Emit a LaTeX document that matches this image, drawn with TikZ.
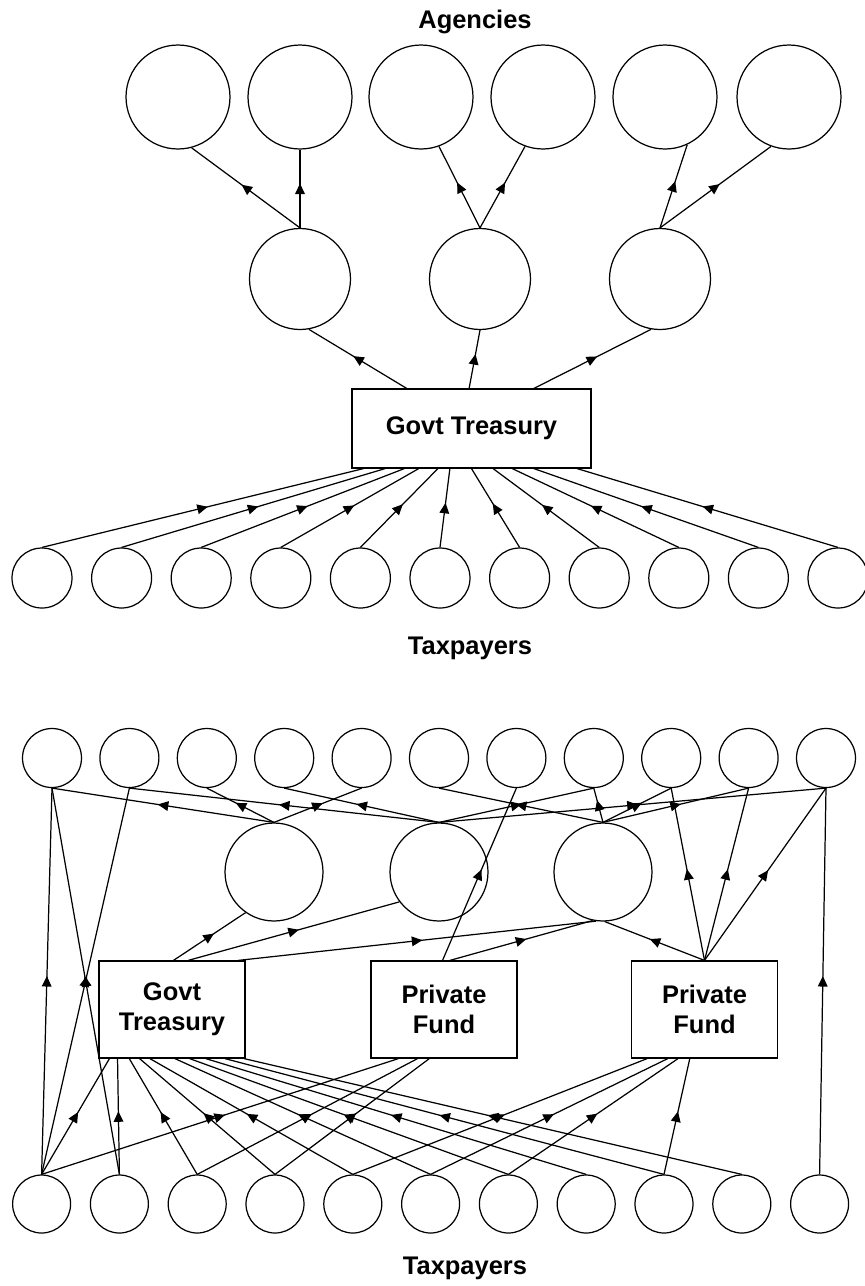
\documentclass[tikz,border=0pt]{standalone}
\usepackage{fontspec}
\setmainfont{Liberation Sans}
\usetikzlibrary{arrows.meta,decorations.markings,calc}

\tikzset{
  agent/.style={draw, circle, inner sep=0pt, line width=0.7pt},
  fund/.style={draw, rectangle, inner sep=0pt, line width=0.7pt, align=center,
    font=\fontsize{14.5}{17}\selectfont\bfseries},
  heading/.style={font=\fontsize{14.5}{17}\selectfont\bfseries},
  flow/.style={line width=0.7pt, postaction={decorate},
    decoration={markings, mark=at position 0.5 with
      {\arrow[xshift=3pt]{Triangle[length=6pt,width=5.5pt]}}}}
}

\begin{document}
\begin{tikzpicture}[x=0.02cm, y=-0.02cm]
  \useasboundingbox (0,0) rectangle (865,1286);

  % Upper chart
  \node[heading] (agencies) at (475,22) {Agencies};
  \foreach \i/\x in {1/178,2/300,3/421,4/543,5/665,6/789}
    \node[agent, minimum size=2.08cm] (ag\i) at (\x,97) {};
  \foreach \i/\x in {1/300,2/480,3/660}
    \node[agent, minimum size=2.02cm] (mid\i) at (\x,279) {};
  \node[fund, minimum width=4.78cm, minimum height=1.58cm] (treas) at (471.5,428.5) {Govt Treasury};
  \foreach \i in {1,...,11}
    \node[agent, minimum size=1.2cm] (tp\i) at ({42+79.6*(\i-1)},578) {};
  \node[heading] (taxA) at (470,648) {Taxpayers};

  % Upper chart: flows
  \foreach \i/\f in {1/.05,2/.14,3/.22,4/.28,5/.36,6/.41,7/.50,8/.59,9/.67,10/.76,11/.94}
    \draw[flow] (tp\i.north) -- ($(treas.south west)!\f!(treas.south east)$);
  \draw[flow] ($(treas.north west)!.23!(treas.north east)$) -- (mid1.280);
  \draw[flow] ($(treas.north west)!.49!(treas.north east)$) -- (mid2.south);
  \draw[flow] ($(treas.north west)!.76!(treas.north east)$) -- (mid3.260);
  \draw[flow] (mid1.north) -- (ag1.285);
  \draw[flow] (mid1.north) -- (ag2.south);
  \draw[flow] (mid2.north) -- (ag3.290);
  \draw[flow] (mid2.north) -- (ag4.250);
  \draw[flow] (mid3.north) -- (ag5.295);
  \draw[flow] (mid3.north) -- (ag6.250);

  % Lower chart
  \foreach \i in {1,...,11}
    \node[agent, minimum size=1.18cm] (ba\i) at ({52+77.4*(\i-1)},758) {};
  \foreach \i/\x in {1/274,2/439,3/603}
    \node[agent, minimum size=1.96cm] (bm\i) at (\x,872) {};
  \node[fund, minimum width=2.92cm, minimum height=1.94cm] (gov) at (172,1009.5) {Govt\\Treasury};
  \node[fund, minimum width=2.92cm, minimum height=1.94cm] (pf1) at (444,1009.5) {Private\\Fund};
  \node[fund, minimum width=2.92cm, minimum height=1.94cm] (pf2) at (704.5,1009.5) {Private\\Fund};
  \foreach \i in {1,...,11}
    \node[agent, minimum size=1.16cm] (bt\i) at ({41.6+77.8*(\i-1)},1204) {};
  \node[heading] (taxB) at (465,1268) {Taxpayers};

  % Lower chart: flows from taxpayers
  \foreach \i/\f in {1/.075,2/.13,3/.21,4/.28,5/.35,6/.52,7/.62,8/.73,9/.86,10/.99}
    \draw[flow] (bt\i.north) -- ($(gov.south west)!\f!(gov.south east)$);
  \foreach \i/\f in {1/.19,3/.32,4/.40}
    \draw[flow] (bt\i.north) -- ($(pf1.south west)!\f!(pf1.south east)$);
  \foreach \i/\f in {5/.11,6/.25,7/.32,9/.40}
    \draw[flow] (bt\i.north) -- ($(pf2.south west)!\f!(pf2.south east)$);
  \draw[flow] (bt1.north) -- (ba1.south);
  \draw[flow] (bt1.north) -- (ba2.south);
  \draw[flow] (bt2.north) -- (ba1.south);
  \draw[flow] (bt11.north) -- (ba11.south);

  % Lower chart: flows from funds
  \draw[flow] ($(gov.north west)!.51!(gov.north east)$) -- (bm1.235);
  \draw[flow] ($(gov.north west)!.61!(gov.north east)$) -- (bm2.217);
  \draw[flow] ($(gov.north west)!.95!(gov.north east)$) -- (bm3.262);
  \draw[flow] ($(pf1.north west)!.49!(pf1.north east)$) -- (ba7.south);
  \draw[flow] ($(pf1.north west)!.54!(pf1.north east)$) -- (bm3.258);
  \foreach \dest in {bm3.272,ba9.south,ba10.south,ba11.south}
    \draw[flow] (pf2.north) -- (\dest);

  % Lower chart: flows from middlemen
  \foreach \m/\a in {1/1,1/3,1/5,2/2,2/4,2/8,2/11,3/6,3/8,3/9,3/10}
    \draw[flow] (bm\m.north) -- (ba\a.south);
\end{tikzpicture}
\end{document}
